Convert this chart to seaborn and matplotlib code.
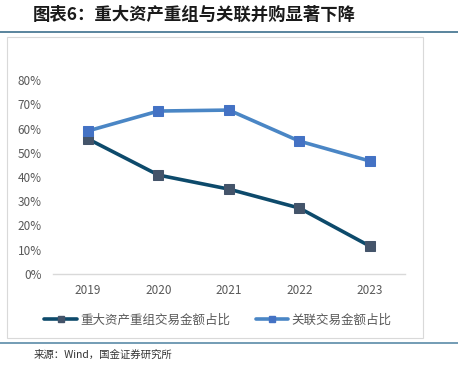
import matplotlib
matplotlib.use("Agg")
import matplotlib.pyplot as plt
import seaborn as sns
import pandas as pd
from matplotlib.patches import Rectangle
from matplotlib.lines import Line2D

years = ["2019", "2020", "2021", "2022", "2023"]
major_restructuring = [0.557, 0.408, 0.350, 0.272, 0.115]
related_party = [0.590, 0.672, 0.676, 0.548, 0.466]
series_names = ["重大资产重组交易金额占比", "关联交易金额占比"]
y_ticks = [0, 0.1, 0.2, 0.3, 0.4, 0.5, 0.6, 0.7, 0.8]

sns.set_theme(style="white")
plt.rcParams['font.family'] = ['Noto Sans CJK SC', 'DejaVu Sans']

W, H = 458, 370
fig = plt.figure(figsize=(W / 100, H / 100), dpi=100)

def fx(px):
    return px / W

def fy(py):
    return 1 - py / H

# frame box
fig.patches.append(Rectangle((fx(7), fy(338)), fx(423) - fx(7), fy(37) - fy(338),
                             transform=fig.transFigure, fill=False,
                             edgecolor="#d9d9d9", linewidth=0.8))
# rules
fig.add_artist(Line2D([0, 1], [fy(32), fy(32)], transform=fig.transFigure,
                      color="#3d6f8c", linewidth=1.2))
fig.add_artist(Line2D([0, 1], [fy(343), fy(343)], transform=fig.transFigure,
                      color="#5b8ba8", linewidth=1.2))

fig.text(fx(33), fy(15), "图表6：重大资产重组与关联并购显著下降", fontsize=12.5,
         fontweight="bold", style="italic", color="#1a1a1a", va="center", ha="left")
fig.text(fx(34), fy(355), "来源：Wind，国金证券研究所", fontsize=7.5,
         color="#333333", va="center", ha="left")

ax = fig.add_axes([fx(52.75), fy(274), fx(405) - fx(52.75), fy(80) - fy(274)])

df = pd.DataFrame({
    "year": years * 2,
    "value": major_restructuring + related_party,
    "series": [series_names[0]] * len(years) + [series_names[1]] * len(years),
})
df["x"] = list(range(len(years))) * 2

line_colors = ["#0d4a6b", "#4a86c5"]
marker_colors = ["#44546a", "#4472c4"]
for name, lc, mc in zip(series_names, line_colors, marker_colors):
    sub = df[df["series"] == name]
    sns.lineplot(data=sub, x="x", y="value", ax=ax, color=lc, linewidth=2.6,
                 marker="s", markersize=7.5, markerfacecolor=mc, markeredgecolor=mc,
                 label=name, legend=False)

ax.set_xlim(-0.5, len(years) - 0.5)
ax.set_ylim(0, 0.8)
ax.set_xticks(range(len(years)))
ax.set_xticklabels(years)
ax.set_yticks(y_ticks)
ax.set_yticklabels([f"{int(round(t * 100))}%" for t in y_ticks])
ax.tick_params(axis="both", labelsize=8.5, colors="#595959", length=0, pad=8)
ax.tick_params(axis="x", pad=7)
ax.set_xlabel("")
ax.set_ylabel("")
for s in ["top", "right", "left"]:
    ax.spines[s].set_visible(False)
ax.spines["bottom"].set_color("#d9d9d9")
ax.spines["bottom"].set_linewidth(1)
ax.grid(False)

handles = [Line2D([0], [0], color=lc, linewidth=2.6, marker="s", markersize=5,
                  markerfacecolor=mc, markeredgecolor=mc)
           for lc, mc in zip(line_colors, marker_colors)]
fig.legend(handles, series_names, loc="center", bbox_to_anchor=(fx(218), fy(320)),
           ncol=2, frameon=False, fontsize=9, labelcolor="#595959",
           handlelength=2.6, handletextpad=0.3, columnspacing=2.0)

fig.savefig("out.png", dpi=100)
